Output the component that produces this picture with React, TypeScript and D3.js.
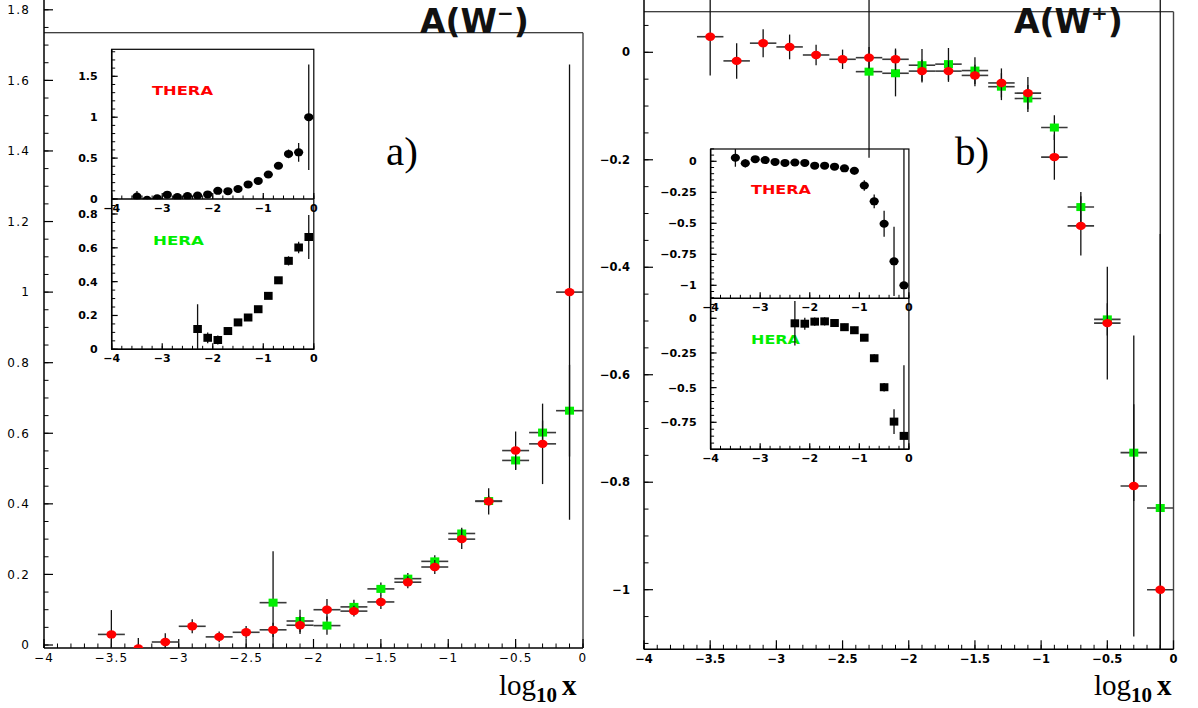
import React from 'react';
import * as d3 from 'd3';

// ---------- DATA ----------
const theraX = [-3.5, -3.3, -3.1, -2.9, -2.7, -2.5, -2.3, -2.1, -1.9, -1.7, -1.5, -1.3, -1.1, -0.9, -0.7, -0.5, -0.3, -0.1];
const heraX = [-2.3, -2.1, -1.9, -1.7, -1.5, -1.3, -1.1, -0.9, -0.7, -0.5, -0.3, -0.1];

// A(W-)
const theraWm = [0.030, -0.010, 0.0085, 0.053, 0.023, 0.036, 0.043, 0.056, 0.100, 0.096, 0.122, 0.178, 0.221, 0.300, 0.407, 0.551, 0.570, 1.0];
const theraWmErr = [0.069, 0.03, 0.025, 0.02, 0.015, 0.018, 0.02, 0.025, 0.03, 0.015, 0.02, 0.017, 0.02, 0.028, 0.037, 0.054, 0.114, 0.645];
const heraWm = [0.120, 0.068, 0.055, 0.108, 0.159, 0.188, 0.237, 0.316, 0.408, 0.523, 0.602, 0.664];
const heraWmErr = [0.146, 0.032, 0.026, 0.02, 0.018, 0.016, 0.017, 0.016, 0.015, 0.027, 0.034, 0.13];

// A(W+)
const theraWp = [0.029, -0.016, 0.017, 0.010, -0.005, -0.013, -0.010, -0.013, -0.035, -0.035, -0.043, -0.057, -0.076, -0.195, -0.323, -0.504, -0.807, -1.0];
const theraWpErr = [0.072, 0.033, 0.026, 0.023, 0.019, 0.018, 0.02, 0.02, 0.021, 0.02, 0.02, 0.027, 0.03, 0.042, 0.055, 0.105, 0.28, 1.1];
const heraWp = [-0.036, -0.039, -0.024, -0.022, -0.034, -0.064, -0.086, -0.140, -0.288, -0.497, -0.745, -0.848];
const heraWpErr = [0.16, 0.043, 0.03, 0.03, 0.025, 0.025, 0.025, 0.023, 0.028, 0.03, 0.09, 0.51];

const binHalf = 0.1;

const mainXTicks = [-4, -3.5, -3, -2.5, -2, -1.5, -1, -0.5, 0];
const leftYTicks = [0, 0.2, 0.4, 0.6, 0.8, 1, 1.2, 1.4, 1.6, 1.8];
const rightYTicks = [0, -0.2, -0.4, -0.6, -0.8, -1];
const insetXTicks = [-4, -3, -2, -1, 0];
const insetThWmTicks = [0, 0.5, 1, 1.5];
const insetHeWmTicks = [0, 0.2, 0.4, 0.6, 0.8];
const insetThWpTicks = [0, -0.25, -0.5, -0.75, -1];
const insetHeWpTicks = [0, -0.25, -0.5, -0.75];

// ---------- HELPERS ----------
const fmt = (v: number) => (v < 0 ? '\u2212' : '') + String(+Math.abs(v).toFixed(2));

function minorRange(a: number, b: number, step: number) {
  const lo = Math.min(a, b), hi = Math.max(a, b);
  const n = Math.round((hi - lo) / step);
  const out: number[] = [];
  for (let i = 0; i <= n; i++) out.push(+(lo + i * step).toFixed(4));
  return out;
}

type AxesProps = {
  xs: d3.ScaleLinear<number, number>;
  ys: d3.ScaleLinear<number, number>;
  top: number; bottom: number; right: number;
  xTicks: number[]; xMinor: number;
  yTicks: number[]; yMinor: number;
  yMinorRange: [number, number];
  majorLen: number; minorLen: number;
  fontSize: number; weight: string | number;
  xLabelDy: number; yLabelDx: number;
  frameTop?: number; frameRight?: number;
  axisTop?: number;
  letterSpacing?: number;
};

function Axes(p: AxesProps) {
  const left = p.xs(-4);
  const xMin = minorRange(p.xs.domain()[0], p.xs.domain()[1], p.xMinor);
  const yMin = minorRange(p.yMinorRange[0], p.yMinorRange[1], p.yMinor).filter(v => p.ys(v) <= p.bottom + 0.5 && p.ys(v) >= p.top - 0.5);
  const font = '"DejaVu Sans", "Liberation Sans", sans-serif';
  return (
    <g>
      <line x1={left} x2={left} y1={p.axisTop ?? p.top} y2={p.bottom} stroke="#000" strokeWidth={1.5} />
      <line x1={left} x2={p.right} y1={p.bottom} y2={p.bottom} stroke="#000" strokeWidth={1.5} />
      {p.frameTop !== undefined && (
        <line x1={left} x2={p.right} y1={p.frameTop} y2={p.frameTop} stroke="#000" strokeWidth={1.2} />
      )}
      {p.frameRight !== undefined && (
        <line x1={p.frameRight} x2={p.frameRight} y1={p.frameTop ?? p.top} y2={p.bottom} stroke="#444" strokeWidth={1.4} />
      )}
      {xMin.map((v, i) => (
        <line key={'xm' + i} x1={p.xs(v)} x2={p.xs(v)} y1={p.bottom} y2={p.bottom - p.minorLen} stroke="#000" strokeWidth={1} />
      ))}
      {p.xTicks.map((v, i) => (
        <g key={'xt' + i}>
          <line x1={p.xs(v)} x2={p.xs(v)} y1={p.bottom} y2={p.bottom - p.majorLen} stroke="#000" strokeWidth={1.2} />
          <text x={p.xs(v)} y={p.bottom + p.xLabelDy} textAnchor="middle" fontFamily={font} fontSize={p.fontSize} fontWeight={p.weight} letterSpacing={p.letterSpacing ?? 0}>{fmt(v)}</text>
        </g>
      ))}
      {yMin.map((v, i) => (
        <line key={'ym' + i} x1={left} x2={left + p.minorLen} y1={p.ys(v)} y2={p.ys(v)} stroke="#000" strokeWidth={1} />
      ))}
      {p.yTicks.map((v, i) => (
        <g key={'yt' + i}>
          <line x1={left} x2={left + p.majorLen} y1={p.ys(v)} y2={p.ys(v)} stroke="#000" strokeWidth={1.2} />
          <text x={left - p.yLabelDx} y={p.ys(v)} dy="0.36em" textAnchor="end" fontFamily={font} fontSize={p.fontSize} fontWeight={p.weight} letterSpacing={p.letterSpacing ?? 0}>{fmt(v)}</text>
        </g>
      ))}
    </g>
  );
}

type SeriesProps = {
  xs: d3.ScaleLinear<number, number>;
  ys: d3.ScaleLinear<number, number>;
  px: number[]; vals: number[]; errs: number[];
  shape: 'circle' | 'square';
  color: string;
  hbars: boolean;
  rx: number; ry: number;
};

function Series(p: SeriesProps) {
  return (
    <g>
      {p.hbars && p.px.map((x, i) => (
        <line key={'h' + i} x1={p.xs(x - binHalf)} x2={p.xs(x + binHalf)} y1={p.ys(p.vals[i])} y2={p.ys(p.vals[i])} stroke="#3a3a3a" strokeWidth={1.6} />
      ))}
      {p.px.map((x, i) => (
        <line key={'v' + i} x1={p.xs(x)} x2={p.xs(x)} y1={p.ys(p.vals[i] - p.errs[i])} y2={p.ys(p.vals[i] + p.errs[i])} stroke="#111" strokeWidth={1.3} />
      ))}
      {p.px.map((x, i) =>
        p.shape === 'circle' ? (
          <ellipse key={'m' + i} cx={p.xs(x)} cy={p.ys(p.vals[i])} rx={p.rx} ry={p.ry} fill={p.color} />
        ) : (
          <rect key={'m' + i} x={p.xs(x) - p.rx} y={p.ys(p.vals[i]) - p.ry} width={2 * p.rx} height={2 * p.ry} fill={p.color} />
        )
      )}
    </g>
  );
}

function Title({ x, y, sign }: { x: number; y: number; sign: string }) {
  return (
    <text x={x} y={y} fontFamily='"DejaVu Sans", sans-serif' fontWeight="bold" fontSize={33} fill="#111">
      A(W<tspan fontSize={20} dy={-13}>{sign}</tspan><tspan dy={13}>)</tspan>
    </text>
  );
}

function LogLabel({ x, y }: { x: number; y: number }) {
  return (
    <text x={x} y={y} fontFamily='"Liberation Serif", "DejaVu Serif", serif' fontSize={29} fill="#000">
      log<tspan fontSize={21} fontWeight="bold" dy={7}>10</tspan><tspan fontWeight="bold" dx={5} dy={-7}>x</tspan>
    </text>
  );
}

export default function App() {
  const xL = d3.scaleLinear().domain([-4, 0]).range([44, 583]);
  const yL = d3.scaleLinear().domain([0, 1.8]).range([645, 9.8]);
  const botL = 648, frameTopL = yL(1.735), rightL = 583;

  const xR = d3.scaleLinear().domain([-4, 0]).range([644, 1173.5]);
  const yR = d3.scaleLinear().domain([0, -1]).range([52.3, 589.7]);
  const botR = 649.3, frameTopR = yR(0.0755), rightR = 1173.5;

  const xIL = d3.scaleLinear().domain([-4, 0]).range([111.7, 313.8]);
  const yILT = d3.scaleLinear().domain([0, 1.5]).range([199, 76.3]);
  const yILB = d3.scaleLinear().domain([0, 0.8]).range([349.3, 214]);
  const xIR = d3.scaleLinear().domain([-4, 0]).range([710.6, 908.9]);
  const yIRT = d3.scaleLinear().domain([0, -1]).range([161.3, 285.3]);
  const yIRB = d3.scaleLinear().domain([0, -0.75]).range([318.3, 422.3]);

  const insetCommon = { majorLen: 6, minorLen: 3.5, fontSize: 11, weight: 'bold', xLabelDy: 13, yLabelDx: 14 };

  return (
    <svg width={1198} height={708} style={{ position: 'absolute', left: 0, top: 0, background: '#fff' }}>
      <defs>
        <clipPath id="clipL"><rect x={44} y={0} width={rightL - 44} height={botL} /></clipPath>
        <clipPath id="clipR"><rect x={644} y={0} width={rightR - 644 + 2} height={botR} /></clipPath>
        <clipPath id="clipILT"><rect x={111.7} y={49.3} width={202.1} height={150} /></clipPath>
        <clipPath id="clipILB"><rect x={111.7} y={199} width={202.1} height={150.3} /></clipPath>
        <clipPath id="clipIRT"><rect x={710.6} y={149} width={198.3} height={149.3} /></clipPath>
        <clipPath id="clipIRB"><rect x={710.6} y={298.3} width={198.3} height={151} /></clipPath>
      </defs>
      <rect width={1198} height={708} fill="#fff" />

      {/* LEFT PANEL */}
      <Axes xs={xL} ys={yL} top={0} axisTop={0} bottom={botL} right={rightL} frameTop={frameTopL} frameRight={rightL}
        xTicks={mainXTicks} xMinor={0.1} yTicks={leftYTicks} yMinor={0.05} yMinorRange={[0, 1.8]}
        majorLen={9} minorLen={4.5} fontSize={12} weight="normal" xLabelDy={14} yLabelDx={14} letterSpacing={1.2} />
      <Title x={420} y={33} sign={'\u2212'} />
      <text x={386} y={165} fontFamily='"Liberation Serif", "DejaVu Serif", serif' fontSize={41}>a)</text>
      <LogLabel x={499} y={695} />
      <g clipPath="url(#clipL)">
        <Series xs={xL} ys={yL} px={heraX} vals={heraWm} errs={heraWmErr} shape="square" color="#00ee00" hbars rx={4.5} ry={4} />
        <Series xs={xL} ys={yL} px={theraX} vals={theraWm} errs={theraWmErr} shape="circle" color="#ff0000" hbars rx={5} ry={4.2} />
      </g>

      <rect x={111.7} y={49.3} width={202.1} height={300} fill="none" stroke="#000" strokeWidth={1.2} />
      <Axes xs={xIL} ys={yILT} top={49.3} bottom={199} right={313.8} xTicks={insetXTicks} xMinor={0.2}
        yTicks={insetThWmTicks} yMinor={0.1} yMinorRange={[0, 1.8]} {...insetCommon} />
      <Axes xs={xIL} ys={yILB} top={199} bottom={349.3} right={313.8} xTicks={insetXTicks} xMinor={0.2}
        yTicks={insetHeWmTicks} yMinor={0.05} yMinorRange={[0, 0.85]} {...insetCommon} />
      <text x={152} y={95} fontFamily='"DejaVu Sans", sans-serif' fontWeight="bold" fontSize={13} fill="#ff0000" textLength={61} lengthAdjust="spacingAndGlyphs">THERA</text>
      <text x={153} y={245} fontFamily='"DejaVu Sans", sans-serif' fontWeight="bold" fontSize={13} fill="#00ee00" textLength={51} lengthAdjust="spacingAndGlyphs">HERA</text>
      <g clipPath="url(#clipILT)">
        <Series xs={xIL} ys={yILT} px={theraX} vals={theraWm} errs={theraWmErr} shape="circle" color="#000" hbars={false} rx={4.6} ry={4} />
      </g>
      <g clipPath="url(#clipILB)">
        <Series xs={xIL} ys={yILB} px={heraX} vals={heraWm} errs={heraWmErr} shape="square" color="#000" hbars={false} rx={4.3} ry={4} />
      </g>

      {/* RIGHT PANEL */}
      <Axes xs={xR} ys={yR} top={0} axisTop={0} bottom={botR} right={rightR} frameTop={frameTopR} frameRight={rightR}
        xTicks={mainXTicks} xMinor={0.1} yTicks={rightYTicks} yMinor={0.05} yMinorRange={[-1.1, 0.05]}
        majorLen={9} minorLen={4.5} fontSize={11.5} weight="bold" xLabelDy={14} yLabelDx={14} />
      <Title x={1014} y={33} sign={'+'} />
      <text x={955} y={165} fontFamily='"Liberation Serif", "DejaVu Serif", serif' fontSize={41}>b)</text>
      <LogLabel x={1094} y={695} />
      <g clipPath="url(#clipR)">
        <Series xs={xR} ys={yR} px={heraX} vals={heraWp} errs={heraWpErr} shape="square" color="#00ee00" hbars rx={4.5} ry={4} />
        <Series xs={xR} ys={yR} px={theraX} vals={theraWp} errs={theraWpErr} shape="circle" color="#ff0000" hbars rx={5} ry={4.2} />
      </g>

      <rect x={710.6} y={149} width={198.3} height={300.3} fill="none" stroke="#000" strokeWidth={1.2} />
      <Axes xs={xIR} ys={yIRT} top={149} bottom={298.3} right={908.9} xTicks={insetXTicks} xMinor={0.2}
        yTicks={insetThWpTicks} yMinor={0.05} yMinorRange={[-1.1, 0.1]} {...insetCommon} />
      <Axes xs={xIR} ys={yIRB} top={298.3} bottom={449.3} right={908.9} xTicks={insetXTicks} xMinor={0.2}
        yTicks={insetHeWpTicks} yMinor={0.05} yMinorRange={[-0.95, 0.1]} {...insetCommon} />
      <text x={751} y={194} fontFamily='"DejaVu Sans", sans-serif' fontWeight="bold" fontSize={13} fill="#ff0000" textLength={60} lengthAdjust="spacingAndGlyphs">THERA</text>
      <text x={751} y={344} fontFamily='"DejaVu Sans", sans-serif' fontWeight="bold" fontSize={13} fill="#00ee00" textLength={49} lengthAdjust="spacingAndGlyphs">HERA</text>
      <g clipPath="url(#clipIRT)">
        <Series xs={xIR} ys={yIRT} px={theraX} vals={theraWp} errs={theraWpErr} shape="circle" color="#000" hbars={false} rx={4.6} ry={4} />
      </g>
      <g clipPath="url(#clipIRB)">
        <Series xs={xIR} ys={yIRB} px={heraX} vals={heraWp} errs={heraWpErr} shape="square" color="#000" hbars={false} rx={4.3} ry={4} />
      </g>
    </svg>
  );
}
